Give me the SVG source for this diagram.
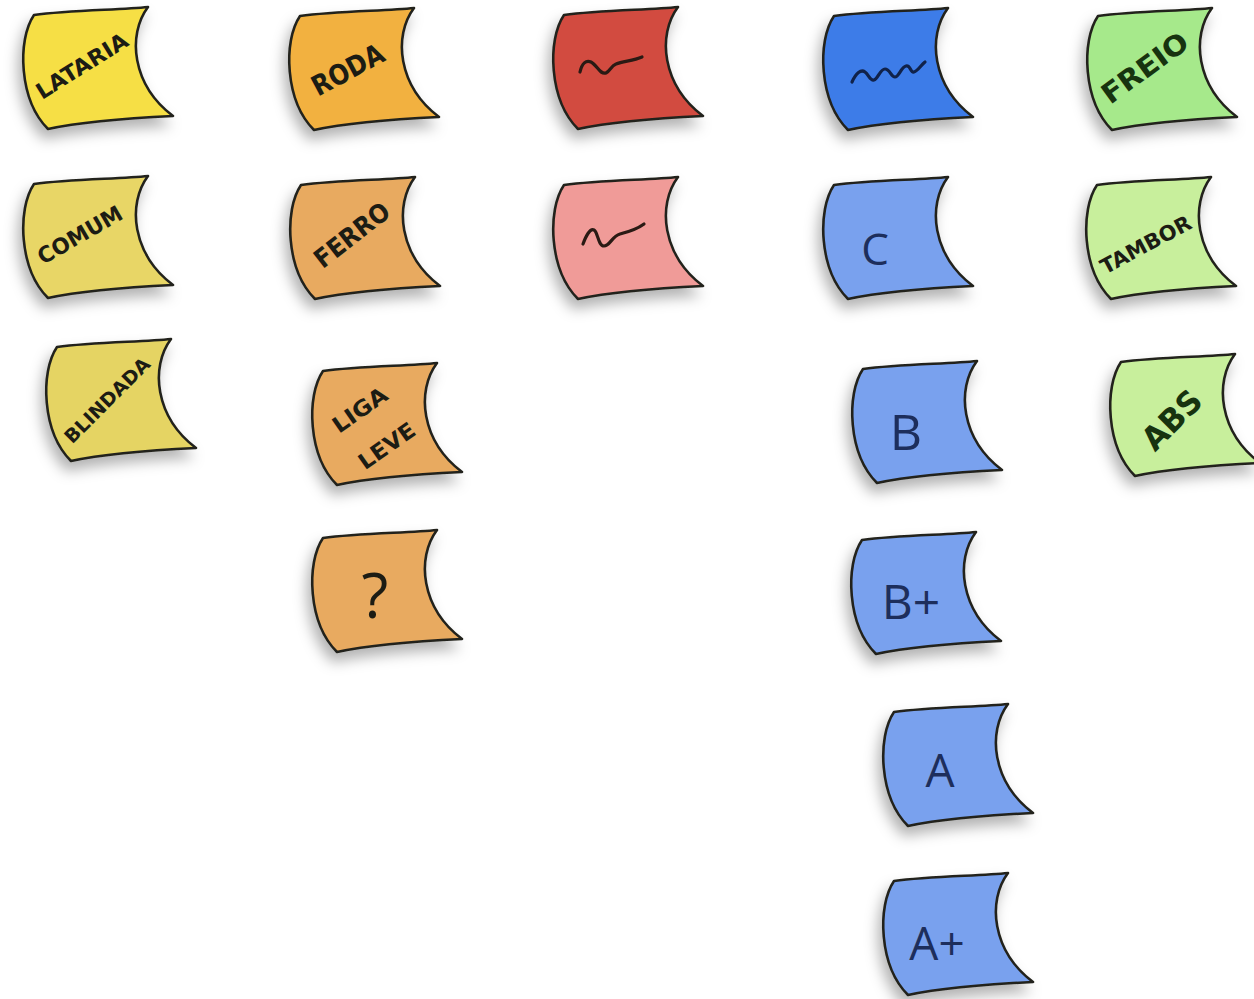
<svg xmlns="http://www.w3.org/2000/svg" xmlns:xlink="http://www.w3.org/1999/xlink" width="1254" height="999" viewBox="0 0 1254 999">
<defs>
<filter id="sh" x="-30%" y="-30%" width="160%" height="170%">
<feDropShadow dx="-4" dy="9" stdDeviation="7" flood-color="#000" flood-opacity="0.3"/>
</filter>
<path id="note" d="M34,15 C70,10 120,10 148,7 C127,35 132,85 173,116 C130,118 80,122 48,129 C19,100 17,40 34,15 Z"/>
</defs>
<style>
.n{stroke:#23231c;stroke-width:2.6;stroke-linejoin:round;filter:url(#sh)}
.y1{fill:#f6df45}.y2{fill:#e8d666}.y3{fill:#e5d463}
.o1{fill:#f2b13f}.o2{fill:#e8aa60}
.r1{fill:#d24b40}.r2{fill:#f09b98}
.b1{fill:#3e7ce8}.b2{fill:#79a1ee}
.g1{fill:#a6e98b}.g2{fill:#c8ef9c}
.t{font-family:"DejaVu Sans Condensed","DejaVu Sans",sans-serif;font-weight:bold;fill:#1c1c14;text-anchor:middle;dominant-baseline:central}
.tb{font-family:"Open Sans","DejaVu Sans",sans-serif;fill:#1d2e5c;text-anchor:middle;font-weight:400}
.tg{fill:#17330f}
.sq{fill:none;stroke:#2a1a14;stroke-width:3.2;stroke-linecap:round;stroke-linejoin:round}
</style>
<rect width="1254" height="999" fill="#fff"/>
<g id="connectors"/>
<g id="n-lataria" transform="translate(0,0)"><use xlink:href="#note" class="n y1"/><text class="t" font-size="22" textLength="104" lengthAdjust="spacingAndGlyphs" transform="translate(82,66) rotate(-32)">LATARIA</text></g>
<g id="n-comum" transform="translate(0,169)"><use xlink:href="#note" class="n y2"/><text class="t" font-size="22" textLength="94" lengthAdjust="spacingAndGlyphs" transform="translate(80,66) rotate(-30)">COMUM</text></g>
<g id="n-blindada" transform="translate(23,332)"><use xlink:href="#note" class="n y3"/><text class="t" font-size="19" textLength="112" lengthAdjust="spacingAndGlyphs" transform="translate(84,68) rotate(-45)">BLINDADA</text></g>
<g id="n-roda" transform="translate(266,1)"><use xlink:href="#note" class="n o1"/><text class="t" font-size="28" textLength="78" lengthAdjust="spacingAndGlyphs" transform="translate(82,69) rotate(-28)">RODA</text></g>
<g id="n-ferro" transform="translate(267,170)"><use xlink:href="#note" class="n o2"/><text class="t" font-size="26" textLength="88" lengthAdjust="spacingAndGlyphs" transform="translate(85,65) rotate(-38)">FERRO</text></g>
<g id="n-liga" transform="translate(289,356)"><use xlink:href="#note" class="n o2"/><text class="t" font-size="22" textLength="62" lengthAdjust="spacingAndGlyphs" transform="translate(71,54) rotate(-35)">LIGA</text><text class="t" font-size="22" textLength="64" lengthAdjust="spacingAndGlyphs" transform="translate(98,90) rotate(-35)">LEVE</text></g>
<g id="n-q" transform="translate(289,523)"><use xlink:href="#note" class="n o2"/><text class="tb" style="fill:#1c1c14" font-size="62" x="86" y="95">?</text></g>
<g id="n-red" transform="translate(530,0)"><use xlink:href="#note" class="n r1"/><path class="sq" d="M50,72 C52,63 56,60 61,62 C67,65 70,75 76,73 C80,71 81,66 86,64 C93,61 103,61 112,57"/></g>
<g id="n-pink" transform="translate(530,170)"><use xlink:href="#note" class="n r2"/><path class="sq" d="M53,74 C56,66 60,58 64,60 C68,62 68,76 74,76 C80,76 82,66 90,64 C98,62 106,60 114,54"/></g>
<g id="n-blue" transform="translate(800,1)"><use xlink:href="#note" class="n b1"/><path class="sq" style="stroke:#10224a" d="M52,81 C56,72 61,68 65,71 C69,74 70,80 74,79 C78,78 80,68 85,68 C90,68 91,76 95,76 C99,76 101,66 106,65 C111,64 110,72 114,71 C118,70 121,64 125,61"/></g>
<g id="n-c" transform="translate(800,170)"><use xlink:href="#note" class="n b2"/><text class="tb" font-size="44" x="75" y="95">C</text></g>
<g id="n-b" transform="translate(829,354)"><use xlink:href="#note" class="n b2"/><text class="tb" font-size="50" x="77" y="96">B</text></g>
<g id="n-bplus" transform="translate(828,525)"><use xlink:href="#note" class="n b2"/><text class="tb" font-size="48" x="83" y="94">B+</text></g>
<g id="n-a" transform="translate(860,697)"><use xlink:href="#note" class="n b2"/><text class="tb" font-size="46" x="80" y="90">A</text></g>
<g id="n-aplus" transform="translate(860,866)"><use xlink:href="#note" class="n b2"/><text class="tb" font-size="46" x="77" y="94">A+</text></g>
<g id="n-freio" transform="translate(1064,1)"><use xlink:href="#note" class="n g1"/><text class="t tg" font-size="28" textLength="100" lengthAdjust="spacingAndGlyphs" transform="translate(81,67) rotate(-36)">FREIO</text></g>
<g id="n-tambor" transform="translate(1063,170)"><use xlink:href="#note" class="n g2"/><text class="t" font-size="21" textLength="100" lengthAdjust="spacingAndGlyphs" transform="translate(83,75) rotate(-28)">TAMBOR</text></g>
<g id="n-abs" transform="translate(1087,347)"><use xlink:href="#note" class="n g2"/><text class="t tg" font-size="32" textLength="70" lengthAdjust="spacingAndGlyphs" transform="translate(85,73) rotate(-45)">ABS</text></g>
</svg>
